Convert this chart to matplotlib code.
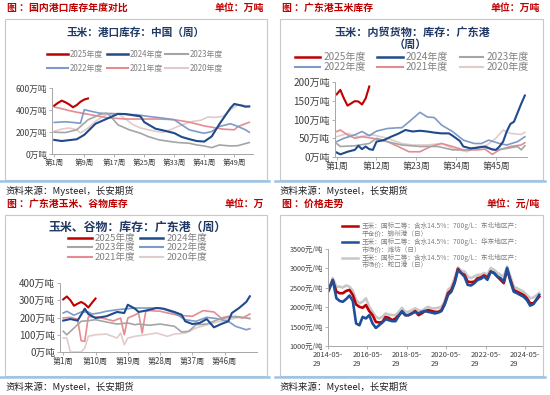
import pandas as pd
import matplotlib.pyplot as plt
from matplotlib.patches import Rectangle
from matplotlib.lines import Line2D

plt.rcParams['font.family'] = ['Noto Sans CJK SC', 'DejaVu Sans']

# ---------------- data ----------------
# 图1 国内港口库存 (万吨)
p1_2025_w = [1, 2, 3, 4, 5, 6, 7, 8, 9, 10]
p1_2025 = [440, 465, 485, 470, 450, 425, 445, 475, 495, 505]
p1_2024_w = [1, 3, 7, 9, 12, 15, 18, 20, 24, 25, 28, 30, 33, 35, 37, 39, 41, 43, 45, 48, 49, 51, 52, 53]
p1_2024 = [128, 118, 134, 174, 275, 320, 365, 363, 342, 290, 230, 215, 190, 155, 135, 118, 113, 160, 270, 418, 455, 440, 430, 433]
p1_2023_w = [1, 4, 7, 10, 13, 15, 16, 18, 21, 24, 26, 29, 32, 34, 37, 39, 41, 43, 45, 48, 50, 53]
p1_2023 = [198, 195, 220, 311, 357, 372, 342, 265, 220, 189, 159, 128, 113, 104, 98, 82, 73, 58, 82, 73, 76, 104]
p1_2022_w = [1, 4, 8, 9, 11, 13, 16, 18, 23, 26, 30, 33, 35, 37, 40, 41, 43, 45, 48, 50, 52, 53]
p1_2022 = [287, 293, 280, 403, 387, 372, 366, 363, 357, 342, 326, 311, 265, 220, 195, 189, 204, 250, 275, 250, 220, 198]
p1_2021_w = [1, 3, 5, 7, 9, 11, 15, 20, 25, 29, 33, 37, 41, 46, 49, 50, 52, 53]
p1_2021 = [427, 412, 394, 380, 367, 355, 330, 318, 318, 318, 312, 290, 255, 226, 220, 250, 276, 288]
p1_2020_w = [1, 3, 5, 7, 8, 10, 12, 14, 16, 18, 20, 22, 24, 26, 28, 30, 32, 34, 36, 38, 40, 42, 44, 46, 48, 50, 52, 53]
p1_2020 = [206, 227, 236, 221, 191, 236, 297, 342, 372, 367, 318, 267, 236, 221, 206, 197, 221, 251, 276, 297, 306, 336, 333, 342, 403, 448, 440, 427]

# 图2 广东港玉米库存 (万吨)
p2_2025_w = [1, 2, 3, 4, 5, 6, 7, 8, 9, 10]
p2_2025 = [167, 179, 156, 137, 143, 149, 148, 140, 156, 188]
p2_2024_w = [1, 2, 4, 6, 7, 8, 9, 10, 11, 12, 14, 16, 18, 20, 22, 24, 26, 28, 30, 32, 33, 35, 36, 38, 40, 42, 44, 45, 46, 47, 48, 49, 50, 51, 52, 53]
p2_2024 = [12, 7, 14, 19, 30, 21, 28, 21, 19, 41, 45, 54, 62, 72, 68, 70, 68, 65, 63, 63, 57, 43, 28, 23, 25, 28, 20, 19, 28, 41, 68, 88, 94, 118, 142, 164]
p2_2023_w = [1, 2, 6, 10, 12, 15, 19, 24, 29, 33, 38, 41, 42, 45, 48, 51, 52, 53]
p2_2023 = [36, 28, 30, 36, 50, 41, 32, 28, 28, 19, 19, 28, 25, 19, 23, 28, 19, 30]
p2_2022_w = [1, 3, 6, 8, 10, 12, 15, 18, 19, 21, 24, 26, 28, 30, 33, 36, 39, 41, 43, 46, 48, 51, 53]
p2_2022 = [41, 50, 59, 68, 57, 69, 76, 78, 78, 94, 119, 107, 105, 85, 68, 45, 36, 36, 45, 36, 32, 41, 54]
p2_2021_w = [1, 2, 4, 6, 8, 11, 15, 18, 21, 24, 27, 30, 33, 36, 40, 42, 44, 46, 49, 52, 53]
p2_2021 = [68, 72, 59, 50, 54, 50, 41, 28, 14, 14, 28, 36, 28, 19, 19, 21, 7, 19, 28, 32, 38]
p2_2020_w = [1, 4, 7, 11, 15, 19, 22, 26, 30, 33, 37, 40, 42, 45, 47, 49, 52, 53]
p2_2020 = [54, 63, 54, 59, 50, 36, 32, 32, 36, 23, 14, 28, 28, 50, 72, 63, 60, 66]

# 图3 广东港玉米、谷物库存 (万吨)
p3_2025_w = [1, 2, 3, 4, 5, 6, 7, 8, 9, 10]
p3_2025 = [305, 322, 300, 268, 280, 290, 278, 258, 285, 310]
p3_2024_w = [1, 3, 5, 6, 7, 8, 10, 13, 16, 18, 19, 21, 22, 24, 27, 29, 32, 34, 35, 37, 39, 41, 43, 45, 47, 48, 50, 52, 53]
p3_2024 = [182, 191, 182, 216, 251, 220, 197, 207, 232, 226, 274, 251, 232, 240, 255, 251, 232, 216, 178, 162, 168, 191, 143, 162, 178, 226, 255, 290, 323]
p3_2023_w = [1, 2, 4, 6, 8, 10, 13, 16, 19, 21, 22, 25, 28, 32, 34, 36, 38, 41, 44, 47, 49, 52, 53]
p3_2023 = [120, 100, 139, 178, 182, 187, 174, 162, 168, 158, 162, 155, 162, 149, 116, 120, 158, 162, 187, 201, 207, 197, 193]
p3_2022_w = [1, 2, 4, 6, 8, 9, 11, 13, 16, 19, 21, 24, 28, 32, 35, 38, 41, 44, 47, 49, 52, 53]
p3_2022 = [226, 236, 213, 232, 232, 220, 226, 236, 245, 251, 255, 255, 255, 226, 187, 178, 201, 193, 178, 149, 129, 135]
p3_2021_w = [1, 3, 5, 6, 7, 8, 11, 15, 17, 18, 19, 21, 22, 23, 24, 25, 28, 33, 37, 40, 43, 45, 47, 50, 51, 53]
p3_2021 = [197, 201, 190, 65, 62, 205, 201, 180, 197, 100, 197, 215, 226, 110, 235, 240, 236, 213, 207, 240, 232, 197, 207, 201, 197, 220]
p3_2020_w = [1, 2, 3, 4, 6, 7, 8, 10, 13, 16, 17, 18, 19, 21, 24, 27, 30, 32, 35, 38, 41, 44, 47, 50, 53]
p3_2020 = [81, 81, 0, 0, 0, 23, 91, 100, 104, 81, 110, 42, 81, 91, 100, 110, 91, 104, 110, 139, 158, 174, 187, 201, 197]

# 图4 价格走势 (元/吨)
p4_dates = pd.to_datetime(['2014-06-10', '2014-08-25', '2014-11-01']
                          + list(pd.date_range('2015-01-01', '2024-11-01', freq='2MS').strftime('%Y-%m-%d'))
                          + ['2025-02-15'])
p4_jinzhou = [2440, 2700, 2400, 2360, 2360, 2420, 2445, 2315, 2070, 2010, 1985, 2055, 1900, 1795, 1620, 1605,
              1620, 1750, 1725, 1665, 1710, 1795, 1880, 1795, 1795, 1840, 1900, 1795, 1840, 1900, 1925, 1900,
              1880, 1880, 1925, 2100, 2360, 2445, 2660, 2990, 2880, 2835, 2660, 2645, 2660, 2750, 2765, 2820,
              2765, 2920, 2880, 2790, 2705, 2620, 2965, 2705, 2445, 2400, 2360, 2315, 2230, 2100, 2100, 2270]
p4_weifang = [2430, 2700, 2230, 2160, 2140, 2210, 2300, 2160, 1580, 1535, 1750, 1710, 1795, 1580, 1465, 1535,
              1605, 1690, 1665, 1640, 1640, 1780, 1900, 1795, 1795, 1840, 1880, 1840, 1880, 1900, 1880, 1860,
              1840, 1860, 1900, 2070, 2315, 2400, 2620, 2965, 2880, 2790, 2575, 2560, 2620, 2705, 2730, 2790,
              2705, 2920, 2880, 2790, 2750, 2660, 3010, 2660, 2400, 2360, 2315, 2270, 2185, 2040, 2080, 2315]
p4_shekou = [2460, 2750, 2530, 2530, 2506, 2560, 2530, 2420, 2185, 2100, 2140, 2230, 2010, 1880, 1750, 1710,
             1750, 1840, 1810, 1795, 1795, 1880, 1985, 1880, 1880, 1925, 1970, 1925, 1900, 1970, 2010, 1970,
             1970, 1985, 2010, 2160, 2445, 2530, 2750, 3025, 2940, 2920, 2790, 2750, 2790, 2835, 2835, 2880,
             2835, 3010, 2965, 2880, 2835, 2790, 3050, 2790, 2530, 2490, 2445, 2400, 2315, 2230, 2250, 2360]

year_labels = ['2025年度', '2024年度', '2023年度', '2022年度', '2021年度', '2020年度']
p4_labels = [('玉米：国标二等：含水14.5%：700g/L：东北地区产：', '平仓价：锦州港（日）'),
             ('玉米：国标二等：含水14.5%：700g/L：华东地区产：', '市场价：潍坊（日）'),
             ('玉米：国标二等：含水14.5%：700g/L：东北地区产：', '市场价：蛇口港（日）')]

RED = '#C00000'
NAVY = '#1F4A8C'
TITLE = '#1F3864'
year_colors = [RED, NAVY, '#A5A5A5', '#7E9AC7', '#E48C92', '#E2CBCB']
year_lw = [1.5, 1.5, 1.2, 1.2, 1.2, 1.2]

# ---------------- figure ----------------
W, H = 550, 395
fig = plt.figure(figsize=(W / 100, H / 100), dpi=100)


def fx(x):
    return x / W


def fy(y):
    return 1 - y / H


def txt(x, y, s, **kw):
    kw.setdefault('va', 'center')
    fig.text(fx(x), fy(y), s, **kw)


def fline(x0, x1, y, **kw):
    fig.add_artist(Line2D([fx(x0), fx(x1)], [fy(y), fy(y)], transform=fig.transFigure, **kw))


def panel(x0, x1, top, bottom, header, unit):
    txt(x0 + 2, top - 11, header, color=RED, fontsize=7.1, weight='bold')
    txt(x1 - 3, top - 11, unit, color=RED, fontsize=7.1, weight='bold', ha='right')
    fig.add_artist(Rectangle((fx(x0), fy(bottom)), (x1 - x0) / W, (bottom - top) / H,
                             transform=fig.transFigure, fill=False, ec='#C8C8C8', lw=0.8))
    fline(x0 - 5, x1 + 2, bottom + 1, color='#9DC3E6', lw=1.8)
    txt(x0, bottom + 11, '资料来源：Mysteel，长安期货', color='#202020', fontsize=6.8)


def add_ax(l, t, r, b):
    ax = fig.add_axes([fx(l), fy(b), (r - l) / W, (b - t) / H])
    ax.set_facecolor('none')
    for s in ['top', 'right']:
        ax.spines[s].set_visible(False)
    for s in ['left', 'bottom']:
        ax.spines[s].set_color('#A6A6A6')
        ax.spines[s].set_linewidth(0.7)
    ax.tick_params(length=2, width=0.6, color='#A6A6A6', pad=1.5, labelcolor='#404040')
    return ax


def legend_item(xl0, xl1, xt, y, color, label, fs, lw):
    fline(xl0, xl1, y, color=color, lw=lw)
    txt(xt, y, label, color='#808080', fontsize=fs)


# ---- panel 1 ----
panel(5, 267, 19, 180, '图 ：国内港口库存年度对比', '单位：万吨')
txt(136, 33, '玉米：港口库存：中国（周）', color=TITLE, fontsize=7.7, weight='bold', ha='center')
cols1 = [(47, 68, 70), (107, 128, 130), (165, 188, 190)]
for i, lab in enumerate(year_labels):
    c = cols1[i % 3]
    legend_item(c[0], c[1], c[2], 54 if i < 3 else 68, year_colors[i], lab, 5.7, year_lw[i] + 0.3)

ax1 = add_ax(52, 88, 253, 154)
p1 = [(p1_2020_w, p1_2020), (p1_2021_w, p1_2021), (p1_2022_w, p1_2022),
      (p1_2023_w, p1_2023), (p1_2024_w, p1_2024), (p1_2025_w, p1_2025)]
for k, (w, v) in enumerate(p1):
    i = 5 - k
    ax1.plot(w, v, color=year_colors[i], lw=year_lw[i])
ax1.set_xlim(0.4, 54)
ax1.set_ylim(0, 600)
ax1.set_yticks([0, 200, 400, 600], [f'{v}万吨' for v in [0, 200, 400, 600]], fontsize=6.2)
ax1.set_xticks([1, 9, 17, 25, 33, 41, 49], [f'第{w}周' for w in [1, 9, 17, 25, 33, 41, 49]], fontsize=5.4)

# ---- panel 2 ----
panel(280, 543, 19, 180, '图 ：广东港玉米库存', '单位：万吨')
txt(412, 32, '玉米：内贸货物：库存：广东港', color=TITLE, fontsize=8, weight='bold', ha='center')
txt(410, 44, '（周）', color=TITLE, fontsize=8, weight='bold', ha='center')
cols2 = [(295, 320, 324), (377, 403, 406), (460, 483, 487)]
for i, lab in enumerate(year_labels):
    c = cols2[i % 3]
    legend_item(c[0], c[1], c[2], 57 if i < 3 else 67, year_colors[i], lab, 7.2, year_lw[i] + 0.3)

ax2 = add_ax(335, 82, 527, 157)
p2 = [(p2_2020_w, p2_2020), (p2_2021_w, p2_2021), (p2_2022_w, p2_2022),
      (p2_2023_w, p2_2023), (p2_2024_w, p2_2024), (p2_2025_w, p2_2025)]
for k, (w, v) in enumerate(p2):
    i = 5 - k
    ax2.plot(w, v, color=year_colors[i], lw=year_lw[i])
ax2.set_xlim(0.53, 53.6)
ax2.set_ylim(0, 200)
ax2.set_yticks([0, 50, 100, 150, 200], [f'{v}万吨' for v in [0, 50, 100, 150, 200]], fontsize=7.2)
ax2.set_xticks([1, 12, 23, 34, 45], [f'第{w}周' for w in [1, 12, 23, 34, 45]], fontsize=6.4)

# ---- panel 3 ----
panel(5, 267, 215, 376, '图 ：广东港玉米、谷物库存', '单位：万')
txt(138, 227, '玉米、谷物：库存：广东港（周）', color=TITLE, fontsize=8.6, weight='bold', ha='center')
cols3 = [(68, 92, 95), (140, 163, 167)]
rows3 = [238, 247, 257]
for i, lab in enumerate(year_labels):
    c = cols3[i % 2]
    legend_item(c[0], c[1], c[2], rows3[i // 2], year_colors[i], lab, 6.9, year_lw[i] + 0.3)

ax3 = add_ax(60, 283, 257, 352)
p3 = [(p3_2020_w, p3_2020), (p3_2021_w, p3_2021), (p3_2022_w, p3_2022),
      (p3_2023_w, p3_2023), (p3_2024_w, p3_2024), (p3_2025_w, p3_2025)]
for k, (w, v) in enumerate(p3):
    i = 5 - k
    ax3.plot(w, v, color=year_colors[i], lw=year_lw[i])
ax3.set_xlim(0.1, 55)
ax3.set_ylim(0, 400)
ax3.set_yticks([0, 100, 200, 300, 400], [f'{v}万吨' for v in [0, 100, 200, 300, 400]], fontsize=7)
ax3.set_xticks([1, 10, 19, 28, 37, 46], [f'第{w}周' for w in [1, 10, 19, 28, 37, 46]], fontsize=5.8)

# ---- panel 4 ----
panel(280, 543, 215, 376, '图 ：价格走势', '单位：元/吨')
ax4 = add_ax(328, 249, 542, 346)
ax4.plot(p4_dates, p4_shekou, color='#C8C8C8', lw=1.9)
ax4.plot(p4_dates, p4_jinzhou, color=RED, lw=1.9)
ax4.plot(p4_dates, p4_weifang, color='#1F4E9A', lw=1.9)
ax4.set_xlim(pd.Timestamp('2014-05-29'), pd.Timestamp('2025-04-08'))
ax4.set_ylim(1000, 3500)
ax4.set_yticks(range(1000, 3501, 500), [f'{v}元/吨' for v in range(1000, 3501, 500)], fontsize=5.2)
xt = pd.to_datetime(['2014-05-29', '2016-05-29', '2018-05-29', '2020-05-29', '2022-05-29', '2024-05-29'])
ax4.set_xticks(xt, [d.strftime('%Y-%m-') + '\n' + d.strftime('%d') for d in xt], fontsize=5.4,
               multialignment='left')

leg_cols = [RED, '#1F4E9A', '#C8C8C8']
leg_y = [226.5, 242, 257.5]
for c, y, (l1, l2) in zip(leg_cols, leg_y, p4_labels):
    fline(342, 358, y, color=c, lw=1.8)
    txt(362, y, l1, color='#808080', fontsize=4.8)
    txt(362, y + 7.5, l2, color='#808080', fontsize=4.8)

fig.savefig('out.png', dpi=100)
